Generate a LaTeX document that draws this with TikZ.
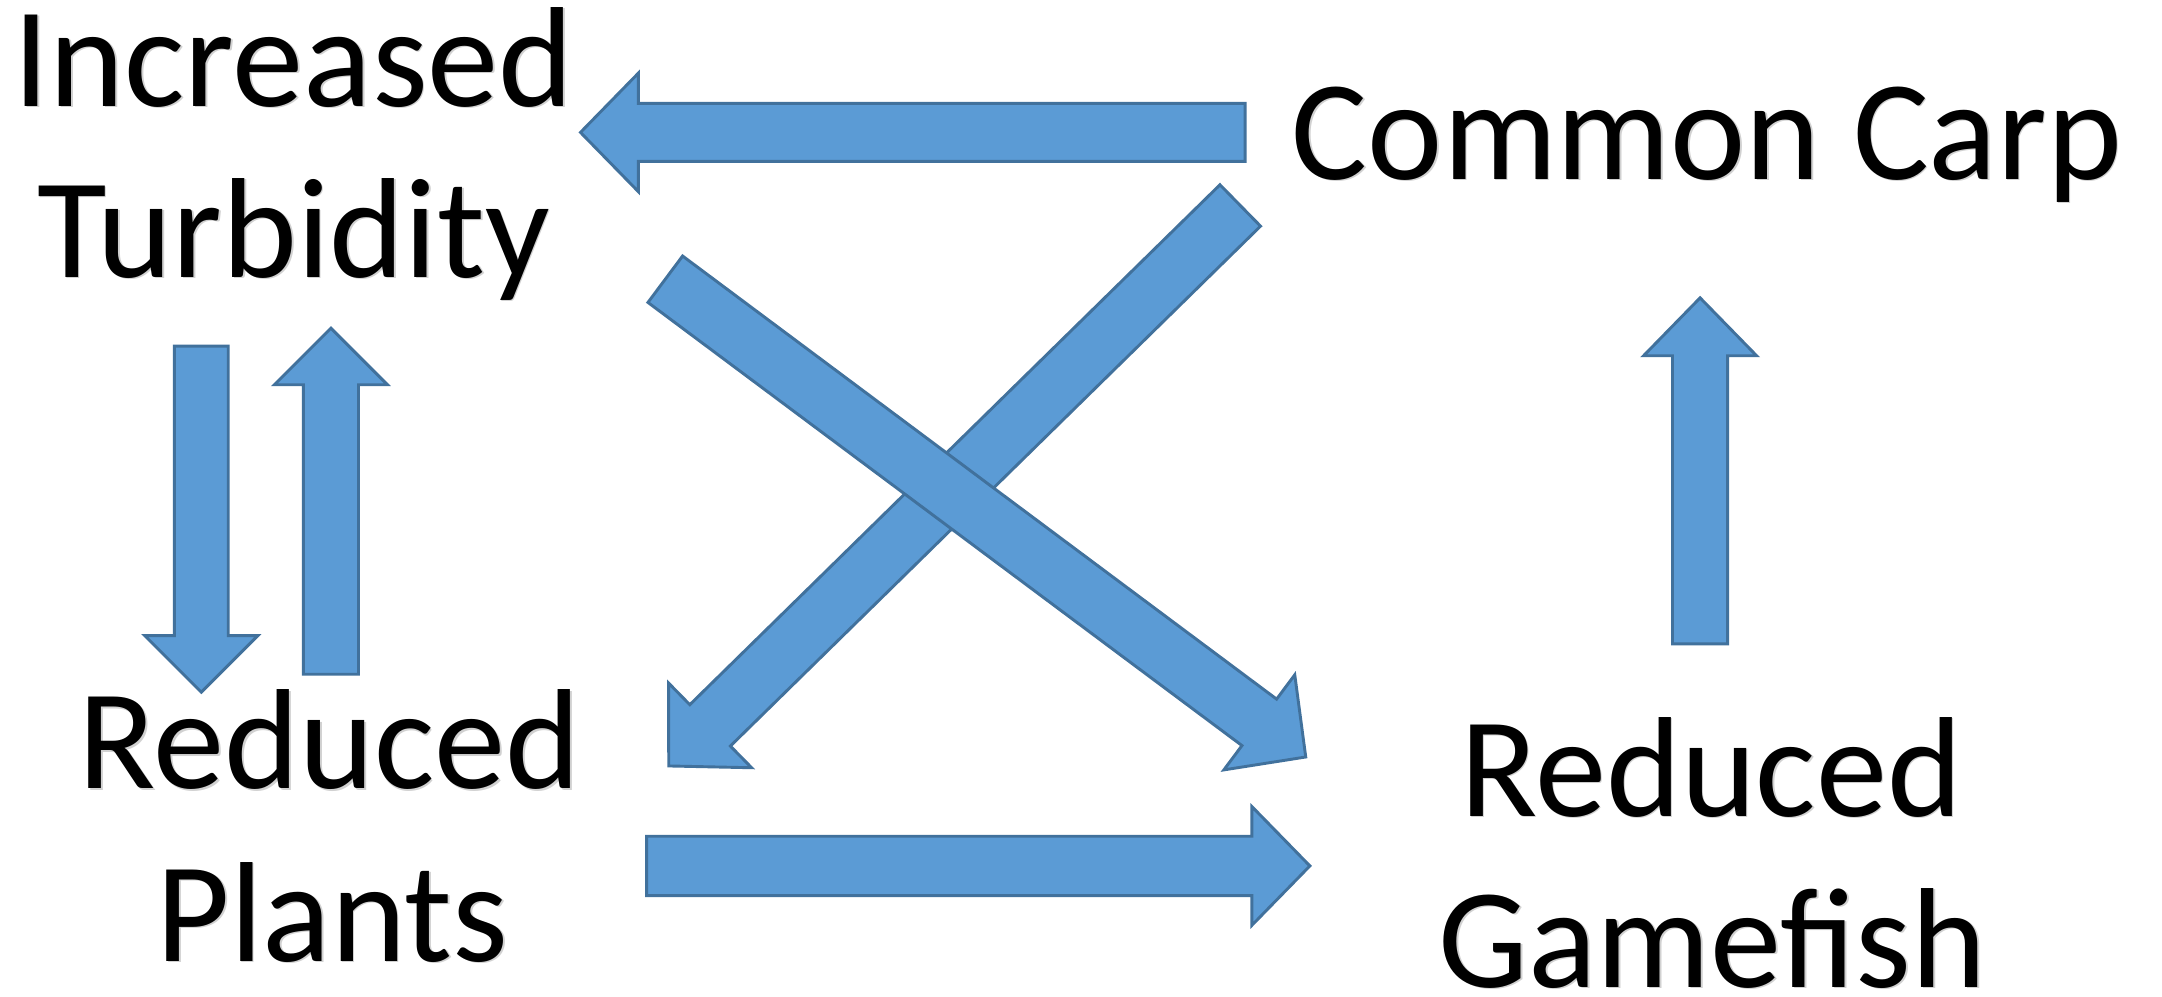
\documentclass[tikz,border=0pt]{standalone}
\usepackage{fontspec}
\setmainfont{Carlito}
\usetikzlibrary{calc}
\definecolor{afill}{HTML}{5B9BD5}
\definecolor{aline}{HTML}{41719C}
% #1 tail, #2 tip, #3 prefix, #4 half shaft, #5 half head, #6 head length
\newcommand{\blockarr}[6]{%
  \coordinate (#3h) at ($(#2)!#6!(#1)$);
  \filldraw[blockarrow] ($(#1)!#4!90:(#2)$) -- ($(#3h)!#4!90:(#2)$) -- ($(#3h)!#5!90:(#2)$) -- (#2)
    -- ($(#3h)!#5!-90:(#2)$) -- ($(#3h)!#4!-90:(#2)$) -- ($(#1)!#4!-90:(#2)$) -- cycle;
}
\begin{document}
\begin{tikzpicture}[x=0.01cm,y=-0.01cm,
  blockarrow/.style={fill=afill,draw=aline,line width=0.6pt,line join=miter},
  lbl/.style={anchor=base,inner sep=0pt,font=\fontsize{29.4}{36}\selectfont},
  shd/.style={lbl,text=black!18}]
\useasboundingbox (0,0) rectangle (1568,723);
\fill[white] (0,0) rectangle (1568,723);
% text shadows
\foreach \t/\x/\y in {Increased/213/77, Turbidity/213/201, Common Carp/1238/130,
  Reduced/239/572, Plants/241/697, Reduced/1241/592, Gamefish/1242/716}
  \node[shd] at (\x+1.2,\y+1.2) {\t};
% labels
\node[lbl] (inc) at (213,77) {Increased};
\node[lbl] (turb) at (213,201) {Turbidity};
\node[lbl] (carp) at (1238,130) {Common Carp};
\node[lbl] (red1) at (239,572) {Reduced};
\node[lbl] (plants) at (241,697) {Plants};
\node[lbl] (red2) at (1241,592) {Reduced};
\node[lbl] (game) at (1242,716) {Gamefish};
% arrow endpoints
\coordinate (a1t) at (903,96);   \coordinate (a1h) at (421,96);
\coordinate (a2t) at (146,251);  \coordinate (a2h) at (146,502);
\coordinate (a3t) at (240,489);  \coordinate (a3h) at (240,238);
\coordinate (a4t) at (1233,467); \coordinate (a4h) at (1233,216);
\coordinate (a5t) at (469,628);  \coordinate (a5h) at (950,628);
\coordinate (a6t) at (899.5,149); \coordinate (a6h) at (485,555.5);
\coordinate (a7t) at (482.5,202.5); \coordinate (a7h) at (947,549);
% arrows
\blockarr{a1t}{a1h}{p1}{0.21cm}{0.43cm}{0.42cm}
\blockarr{a2t}{a2h}{p2}{0.195cm}{0.41cm}{0.41cm}
\blockarr{a3t}{a3h}{p3}{0.20cm}{0.41cm}{0.41cm}
\blockarr{a4t}{a4h}{p4}{0.20cm}{0.41cm}{0.42cm}
\blockarr{a5t}{a5h}{p5}{0.215cm}{0.43cm}{0.42cm}
\blockarr{a6t}{a6h}{p6}{0.21cm}{0.43cm}{0.42cm}
\blockarr{a7t}{a7h}{p7}{0.21cm}{0.43cm}{0.42cm}
\end{tikzpicture}
\end{document}
